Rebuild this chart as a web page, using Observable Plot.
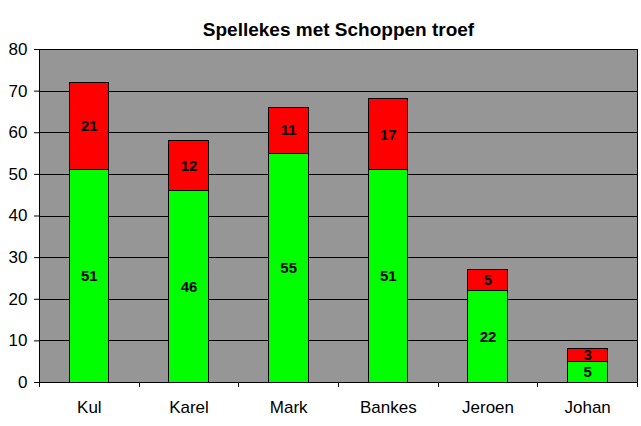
<!DOCTYPE html>
<html>
<head>
<meta charset="utf-8">
<script src="https://cdn.jsdelivr.net/npm/d3@7"></script>
<script src="https://cdn.jsdelivr.net/npm/@observablehq/plot@0.6"></script>
<style>
  html, body { margin: 0; padding: 0; background: white; }
</style>
</head>
<body>
<div id="chart"></div>
<script>
const title = "Spellekes met Schoppen troef";
const categories = ["Kul", "Karel", "Mark", "Bankes", "Jeroen", "Johan"];
const seriesNames = ["onder", "boven"];
const seriesColors = ["#00ff00", "#ff0000"];
const lowerValues = [51, 46, 55, 51, 22, 5];
const upperValues = [21, 12, 11, 17, 5, 3];
const yTicks = [0, 10, 20, 30, 40, 50, 60, 70, 80];

const data = categories.flatMap((c, i) => [
  {name: c, series: seriesNames[0], value: lowerValues[i]},
  {name: c, series: seriesNames[1], value: upperValues[i]}
]);

const W = 641, H = 426, mL = 39, mR = 4, mT = 49, mB = 44;
const bw = (W - mL - mR) / categories.length;
const plotH = H - mT - mB;

const chart = Plot.plot({
  width: W,
  height: H,
  marginLeft: mL,
  marginRight: mR,
  marginTop: mT,
  marginBottom: mB,
  style: {fontFamily: "'Liberation Sans', Arial, sans-serif", fontSize: "17px", background: "white", color: "black"},
  x: {type: "band", domain: categories, padding: 0, round: false, label: null, tickSize: 0, tickPadding: 18},
  y: {domain: [0, 80], ticks: yTicks, tickSize: 5, tickPadding: 7, label: null},
  color: {domain: seriesNames, range: seriesColors},
  marks: [
    Plot.frame({fill: "#969696", stroke: null}),
    Plot.gridY(yTicks, {stroke: "black", strokeOpacity: 1, shapeRendering: "crispEdges"}),
    Plot.barY(data, {x: "name", y: "value", fill: "series", stroke: "black", strokeWidth: 1, insetLeft: 30, insetRight: 30, shapeRendering: "crispEdges"}),
    Plot.text(data, Plot.stackY({x: "name", y: "value", z: "series", text: "value", fontWeight: "bold", fontSize: 15, fill: "black"})),
    Plot.ruleX(categories, {x: d => d, dx: -bw / 2, insetTop: plotH, insetBottom: -5, stroke: "black", shapeRendering: "crispEdges"}),
    Plot.ruleX([categories[categories.length - 1]], {x: d => d, dx: bw / 2, insetTop: plotH, insetBottom: -5, stroke: "black", shapeRendering: "crispEdges"}),
    Plot.frame({stroke: "black", shapeRendering: "crispEdges"}),
    Plot.text([title], {frameAnchor: "top", dy: -27, text: d => d, fontWeight: "bold", fontSize: 19, fill: "black"})
  ]
});
document.getElementById("chart").appendChild(chart);
</script>
</body>
</html>
